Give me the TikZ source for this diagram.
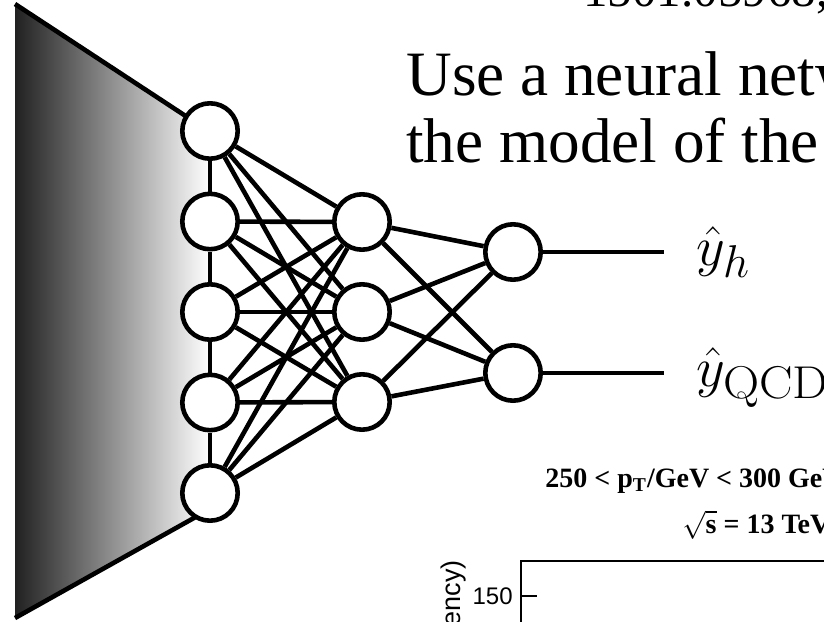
\RequirePackage{fix-cm}
\documentclass[tikz,border=0pt]{standalone}
\usepackage{fontspec}
\newfontfamily\slideserif{Liberation Serif}
\newfontfamily\plotsans{Liberation Sans}
\DeclareMathSizes{28}{28}{23}{17}
\tikzset{
  neuron/.style={circle,draw,line width=2.3pt,fill=white,minimum size=27.7pt,inner sep=0pt},
  wire/.style={line width=2.3pt},
  slidetext/.style={anchor=base west,inner sep=0pt},
  framerule/.style={line width=0.6pt},
}

\begin{document}
\begin{tikzpicture}[x=0.5pt,y=-0.5pt]
  \useasboundingbox (0,0) rectangle (824,621);
  \clip (0,0) rectangle (824,621);
  % input funnel
  \shade[left color=black!87,right color=white] (15,4) -- (210,132) -- (210,509) -- (15,618) -- cycle;
  \draw[wire] (15,4) -- (210,132);
  \draw[wire] (15,618) -- (210,509);
  % layers
  \foreach \i/\y in {1/131,2/221.5,3/312,4/402.5,5/493}
    \node[neuron] (in\i) at (210,\y) {};
  \foreach \j/\y in {1/222,2/312,3/402}
    \node[neuron] (hid\j) at (362,\y) {};
  \node[neuron] (out1) at (513,252) {};
  \node[neuron] (out2) at (513,373) {};
  \foreach \i [count=\n from 2] in {1,...,4}
    \draw[wire] (in\i) -- (in\n);
  \foreach \i in {1,...,5}
    \foreach \j in {1,2,3}
      \draw[wire] (in\i) -- (hid\j);
  \foreach \j in {1,2,3}
    \foreach \k in {1,2}
      \draw[wire] (hid\j) -- (out\k);
  % outputs
  \coordinate (endh) at (664,252);
  \coordinate (endqcd) at (664,373);
  \draw[wire] (out1) -- (endh);
  \draw[wire] (out2) -- (endqcd);
  \node[slidetext,font=\fontsize{28}{30}\selectfont] (lblh) at (696,265) {$\hat{y}_h$};
  \node[slidetext,font=\fontsize{28}{30}\selectfont] (lblqcd) at (696,386) {$\hat{y}_{\scalebox{1.09}[1]{$\scriptstyle\mathrm{QCD}$}}$};
  % slide text
  \node[slidetext,font=\slideserif\fontsize{24.5}{28}\selectfont] (arxiv) at (583,6) {1501.05968,};
  \node[slidetext,font=\slideserif\fontsize{31.6}{38}\selectfont] (line1) at (406,95) {Use a neural network};
  \node[slidetext,font=\slideserif\fontsize{31.6}{38}\selectfont] (line2) at (406,162) {the model of the};
  % plot corner
  \node[slidetext,font=\slideserif\bfseries\fontsize{14}{16}\selectfont] (ptbin) at (545,487) {250 < p\textsubscript{T}/GeV < 300 GeV};
  \node[slidetext,font=\slideserif\bfseries\fontsize{14}{16}\selectfont] (energy) at (682,533) {$\sqrt{\mbox{s}}$ = 13 TeV};
  \draw[framerule] (521,640) -- (521,561) -- (830,561);
  \draw[framerule] (521,596) -- (537,596);
  \node[anchor=east,inner sep=0pt,font=\plotsans\fontsize{12}{14}\selectfont] (tick150) at (513,596) {150};
  \node[rotate=90,anchor=east,inner sep=0pt,font=\plotsans\fontsize{13.5}{15}\selectfont] (ylabel) at (454,560) {ency)};
\end{tikzpicture}
\end{document}
